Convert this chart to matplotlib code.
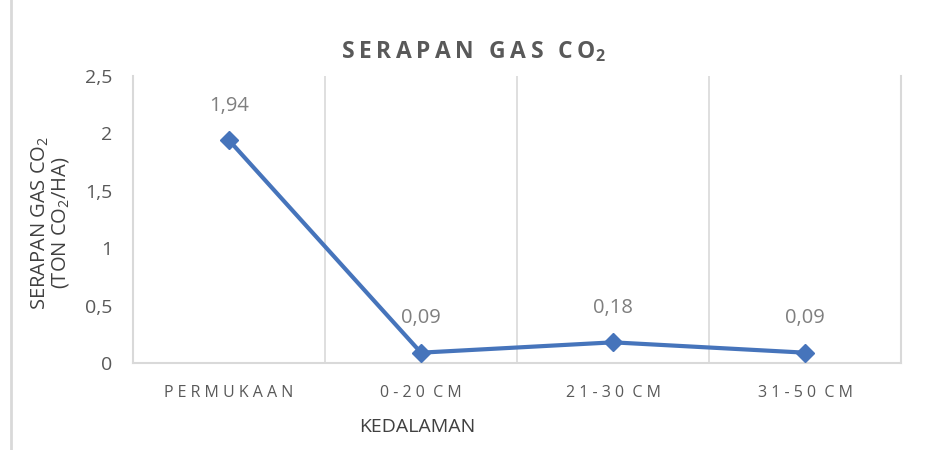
import matplotlib.pyplot as plt
import matplotlib as mpl
from matplotlib.lines import Line2D

mpl.rcParams.update({
    "font.family": ["Open Sans", "DejaVu Sans"],
    "mathtext.default": "regular",
    "figure.dpi": 100,
})

categories = ["PERMUKAAN", "0-20 CM", "21-30 CM", "31-50 CM"]
values = [1.94, 0.09, 0.18, 0.09]
value_labels = ["1,94", "0,09", "0,18", "0,09"]
yticks = [0, 0.5, 1, 1.5, 2, 2.5]
ytick_labels = ["0", "0,5", "1", "1,5", "2", "2,5"]

LINE = "#4674bb"
TEXT = "#595959"
GRID = "#d9d9d9"


def spaced(s, sep="\u2009"):
    # letter-spaced text, keeping word gaps to a single extra space
    return "  ".join(sep.join(w) for w in s.split(" "))


fig = plt.figure(figsize=(9.34, 4.5))
ax = fig.add_axes([133 / 934, 87 / 450, 768 / 934, 287 / 450])

x = list(range(len(categories)))
ax.plot(x, values, color=LINE, lw=3, marker="D", ms=9.5, zorder=3, clip_on=False)
for xi, v, lab in zip(x, values, value_labels):
    ax.annotate(lab, (xi, v), xytext=(0, 25), textcoords="offset points",
                ha="center", va="center", fontsize=14.5, color="#7f7f7f")

ax.set_xlim(-0.5, len(categories) - 0.5)
ax.set_ylim(0, 2.5)
ax.set_yticks(yticks)
ax.set_yticklabels(ytick_labels)
ax.set_xticks(x)
ax.set_xticklabels([spaced(c, " ") for c in categories])
ax.tick_params(axis="y", length=0, pad=15, labelsize=14, labelcolor=TEXT)
ax.tick_params(axis="x", length=0, pad=16, labelsize=11.5, labelcolor=TEXT)

for b in [0.5, 1.5, 2.5]:
    ax.axvline(b, color=GRID, lw=1.2, zorder=1)
for side in ["left", "bottom", "right"]:
    ax.spines[side].set_color(GRID)
    ax.spines[side].set_linewidth(1.5)
ax.spines["top"].set_visible(False)

fig.text(474 / 934, 1 - 58 / 450, "\u2009".join("SERAPAN GAS CO") + "$_2$",
         ha="center", va="baseline", fontsize=16.5, fontweight="bold", color=TEXT)
fig.text(50 / 934, 1 - 223 / 450, "SERAPAN GAS CO$_2$\n(TON CO$_2$/HA)",
         rotation=90, ha="center", va="center", fontsize=14.5,
         color="#404040", linespacing=0.92)
fig.text(417 / 934, 1 - 427 / 450, "KEDALAMAN", ha="center", va="center",
         fontsize=14, color="#404040")

# outer chart border (left edge visible)
fig.add_artist(Line2D([11 / 934, 11 / 934], [0, 1], color=GRID, lw=2,
                      transform=fig.transFigure))

fig.savefig("out.png", dpi=100)
